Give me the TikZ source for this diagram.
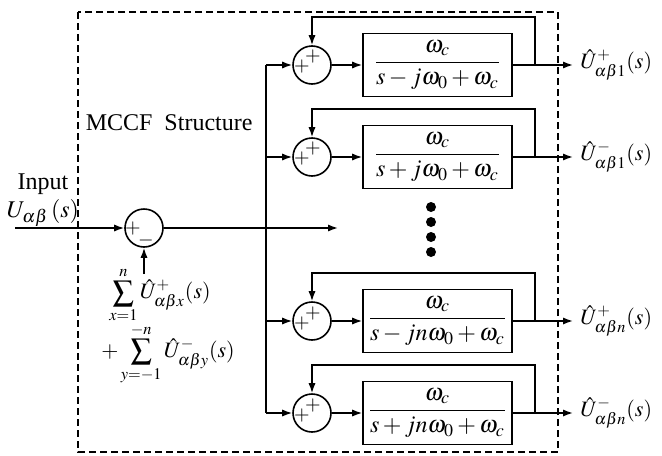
\documentclass[tikz,border=0pt]{standalone}
\usepackage{mathptmx}
\usepackage{fontspec}
\setmainfont{Liberation Serif}
\usetikzlibrary{arrows.meta}

\newcommand{\bsum}{\mathop{\vcenter{\hbox{\fontsize{15}{15}\selectfont$\sum$}}}\limits}

\tikzset{
  sumc/.style={draw,circle,minimum size=19pt,inner sep=0pt},
  sign/.style={font=\fontsize{10}{10}\selectfont,inner sep=0pt},
  tfblock/.style={draw,minimum width=74.5pt,minimum height=31.5pt,inner sep=1pt},
  outlab/.style={anchor=west,font=\fontsize{11}{13}\selectfont},
  sumlab/.style={inner sep=0pt,font=\fontsize{11}{13}\selectfont},
  arr/.style={-{Latex[length=5pt,width=3.6pt]}},
}

\begin{document}
\begin{tikzpicture}[x=0.5pt,y=-0.5pt,line width=0.8pt,line join=miter,
    font=\fontsize{12}{14}\selectfont]
  \useasboundingbox (0,0) rectangle (662,455);

  % ---- MCCF frame ----
  \draw[line width=1pt,dash pattern=on 3.5pt off 2pt] (78,12) rectangle (558,452);
  \node[anchor=west,inner sep=0pt] (title) at (85,123) {MCCF\ \ Structure};

  % ---- input and first sum ----
  \coordinate (in) at (15,228);
  \node (inp) at (43,184) {Input};
  \node (uin) at (43,213) {$U_{\alpha\beta}\,(s)$};
  \node[sumc] (s0) at (144,228) {};
  \node[sign] at ([shift={(-11,0)}]s0.center) {$+$};
  \node[sign] at ([shift={(2,12)}]s0.center) {$-$};
  \draw[arr] (in) -- (s0.west);

  % sum of the estimated components
  \coordinate (fbin) at (144,274);
  \node[sumlab] (fb1) at (160,295)
    {$\bsum_{x=1}^{n}\hat{U}^{+}_{\alpha\beta x}(s)$};
  \node[sumlab] (fb2) at (168,354)
    {$+\bsum_{y=-1}^{-n}\hat{U}^{-}_{\alpha\beta y}(s)$};
  \draw[arr] (fbin) -- (s0.south);

  % ---- main line and bus ----
  \coordinate (bus) at (266,228);
  \coordinate (mid) at (338,228);
  \draw[arr] (s0.east) -- (mid);

  % dots
  \foreach \y in {207,222,237,252} {
    \fill (431,\y) circle (2.5pt);
  }

  % ---- filter branches ----
  \foreach \i/\y/\sg/\m/\k/\n in {1/65/-/{}/+/1,2/157/+/{}/-/1,
                                  3/321/-/n/+/n,4/413/+/n/-/n} {
    \node[sumc] (s\i) at (312,\y) {};
    \node[sign] at ([shift={(-10,2)}]s\i.center) {$+$};
    \node[sign] at ([shift={(1,-8)}]s\i.center) {$+$};
    \node[tfblock] (b\i) at (437.5,\y)
      {$\displaystyle\frac{\omega_c}{s\sg j\m\omega_0+\omega_c}$};
    \node[outlab] (u\i) at (573,\y) {$\hat{U}^{\k}_{\alpha\beta\n}(s)$};
    \coordinate (t\i) at (535,\y);
    \draw[arr] (s\i -| bus) -- (s\i.west);
    \draw[arr] (s\i.east) -- (b\i.west);
    \draw[arr] (b\i.east) -- (u\i.west);
    \draw[arr] (t\i) -- ++(0,-48) -| (s\i.north);
  }
  \draw (s1 -| bus) -- (s4 -| bus);
\end{tikzpicture}
\end{document}
